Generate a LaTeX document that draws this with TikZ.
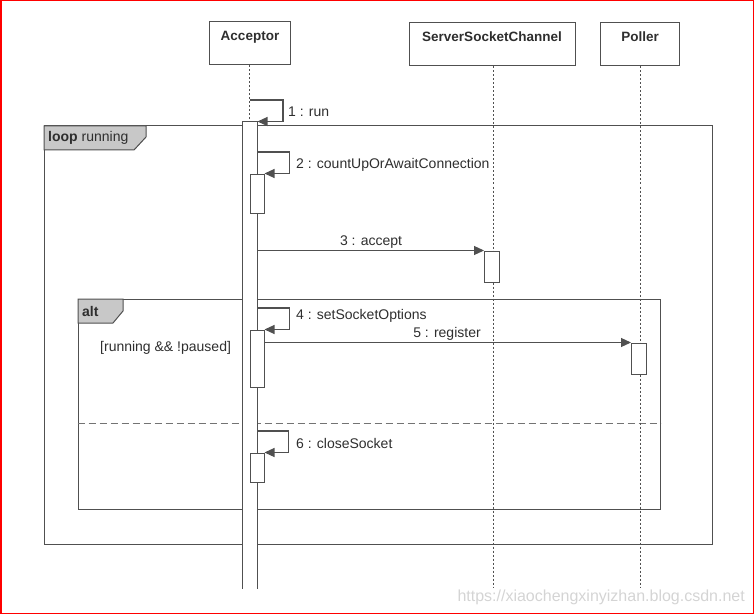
\documentclass[tikz,border=0pt]{standalone}
\usepackage{fontspec}
\setmainfont{Liberation Sans}
\usetikzlibrary{arrows.meta}
\definecolor{ln}{HTML}{505050}
\definecolor{tx}{HTML}{2E2E2E}
\definecolor{tabfill}{HTML}{C8C8C8}
\definecolor{wm}{HTML}{D4D4D4}
\tikzset{
  hdr/.style={draw=ln, line width=1pt, fill=white, inner sep=0pt, text=tx,
    font=\fontsize{13.5}{15}\selectfont\bfseries, text depth=0pt},
  act/.style={draw=ln, line width=1pt, fill=white, inner sep=0pt, minimum width=14pt},
  life/.style={draw=ln, line width=1pt, dash pattern=on 2pt off 2pt},
  frm/.style={draw=ln, line width=1pt, inner sep=0pt},
  tab/.style={draw=ln, line width=1pt, fill=tabfill},
  msg/.style={draw=ln, line width=1.1pt, -{Triangle[length=10pt,width=9pt]}},
  lbl/.style={text=tx, font=\fontsize{14}{16}\selectfont, inner sep=0pt},
  tablbl/.style={text=tx, font=\fontsize{14}{16}\selectfont, inner sep=0pt, anchor=west},
  sep/.style={draw=ln!80, line width=1pt, dash pattern=on 7pt off 4pt}
}
\begin{document}
\begin{tikzpicture}[x=1pt,y=-1pt]
\useasboundingbox (0,0) rectangle (755,615);
\draw[red, line width=1.5pt] (0.75,0.75) rectangle (753.5,613.5);
% frames
\node[frm, minimum width=668pt, minimum height=418pt] (loop) at (378,335) {};
\draw[tab] (44,126) -- (146,126) -- (146,137) -- (134,150) -- (44,150) -- cycle;
\node[tablbl] (looplbl) at (48,138) {\textbf{loop} running};
\node[frm, minimum width=582pt, minimum height=210pt] (alt) at (369,404) {};
\draw[tab] (78,299) -- (123,299) -- (123,311) -- (113,323) -- (78,323) -- cycle;
\node[tablbl] (altlbl) at (82,311) {\textbf{alt}};
\coordinate (sepy) at (0,423);
\draw[sep] (alt.west |- sepy) -- (alt.east |- sepy);
\node[lbl, anchor=west] (guard) at (100,348) {[running \&\& !paused]};
% headers
\node[hdr, minimum width=81pt, minimum height=43pt] (acc) at (249.5,43.5) {};
\node[lbl, font=\fontsize{13.5}{15}\selectfont\bfseries] (acct) at (250,37) {Acceptor};
\node[hdr, minimum width=166pt, minimum height=43pt] (ssc) at (492,44.5) {};
\node[lbl, font=\fontsize{13.5}{15}\selectfont\bfseries] (ssct) at (492,37) {ServerSocketChannel};
\node[hdr, minimum width=79pt, minimum height=43pt] (pol) at (639.5,44.5) {};
\node[lbl, font=\fontsize{13.5}{15}\selectfont\bfseries] (polt) at (640,37) {Poller};
% lifelines
\coordinate (lend) at (0,588);
\draw[life] (acc.south) -- (acc.south |- lend);
\draw[life] (ssc.south -| 493,0) -- (493,588);
\draw[life] (pol.south -| 640,0) -- (640,588);
% activations
\node[act, draw=none, minimum height=466pt] (A0) at (250,355) {};
\draw[ln, line width=1pt] (A0.south west) -- (A0.north west) -- (A0.north east) -- (A0.south east);
\node[act, minimum height=39pt] (A1) at (257,193.5) {};
\node[act, minimum width=15pt, minimum height=31pt] (S1) at (492,266.5) {};
\node[act, minimum height=57pt] (A2) at (257,358.5) {};
\node[act, minimum width=15pt, minimum height=31pt] (P1) at (639,358.5) {};
\node[act, minimum height=29pt] (A3) at (257,467.5) {};
% messages
\coordinate (m1) at (0,100);
\draw[msg] (A0.north |- m1) -- ++(33,0) |- (A0.north east);
\node[lbl, anchor=west] (l1) at (288,112) {1 : run};
\coordinate (m2) at (0,152);
\draw[msg] (A0.east |- m2) -- ++(32,0) |- (A1.north east);
\node[lbl, anchor=west] (l2) at (296,165) {2 : countUpOrAwaitConnection};
\draw[msg] (A0.east |- S1.north) -- (S1.north west);
\node[lbl] (l3) at (371,242) {3 : accept};
\coordinate (m4) at (0,308);
\draw[msg] (A0.east |- m4) -- ++(32,0) |- (A2.north east);
\node[lbl, anchor=west] (l4) at (296,316) {4 : setSocketOptions};
\draw[msg] (A2.east |- P1.north) -- (P1.north west);
\node[lbl] (l5) at (447,334) {5 : register};
\coordinate (m6) at (0,431);
\draw[msg] (A0.east |- m6) -- ++(31,0) |- (A3.north east);
\node[lbl, anchor=west] (l6) at (296,443) {6 : closeSocket};
% watermark
\node[text=wm, font=\fontsize{16}{18}\selectfont, inner sep=0pt, anchor=east] (wmk) at (745,597) {https://xiaochengxinyizhan.blog.csdn.net};
\end{tikzpicture}
\end{document}
